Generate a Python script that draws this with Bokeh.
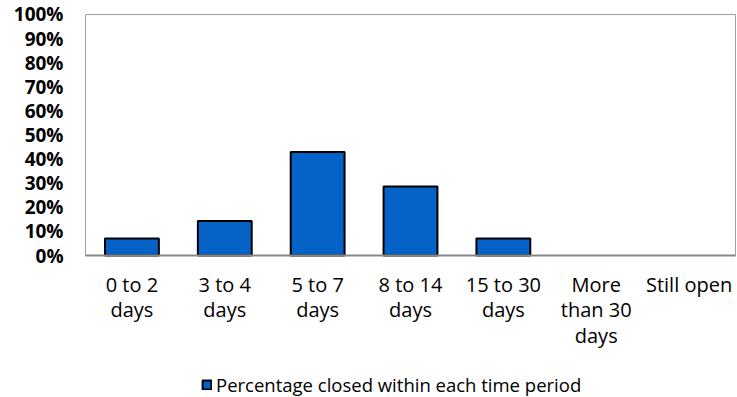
from bokeh.plotting import figure
from bokeh.models import (ColumnDataSource, Range1d, FixedTicker, PrintfTickFormatter,
                          Legend, LegendItem)
from bokeh.core.properties import value
from bokeh.embed import file_html
from bokeh.resources import INLINE

# Share of cases closed in each time band (percent)
periods = ["0-2", "3-4", "5-7", "8-14", "15-30", "30+", "open"]
period_labels = ["0 to 2\ndays", "3 to 4\ndays", "5 to 7\ndays", "8 to 14\ndays",
                 "15 to 30\ndays", "More\nthan 30\ndays", "Still open"]
pct_closed = [7.1, 14.3, 42.9, 28.6, 7.1, 0.0, 0.0]
y_ticks = [0, 10, 20, 30, 40, 50, 60, 70, 80, 90, 100]
series_name = "Percentage closed within each time period"

FONT = "Open Sans"
W, H = 737, 397
LEFT, RIGHT, TOP = 84, 1, 13          # canvas margins around the frame
PLOT_BOTTOM_PX = 255                 # screen row of the 0% baseline
n = len(periods)

# The frame spans the whole lower area too, so the category names and the
# legend can be placed in data space below the 0 line.
frame_w = W - LEFT - RIGHT
px_x = (frame_w - 2) / n                     # px per category
pad_x = 1 / px_x
px_y = (PLOT_BOTTOM_PX - TOP) / 100.4        # px per percentage point
y_end = 100 + 1 / px_y
y_start = -(H - PLOT_BOTTOM_PX) / px_y

xs = [i + 0.5 for i in range(n)]
outline = ["black" if v > 0 else None for v in pct_closed]
source = ColumnDataSource(dict(x=xs, period=periods, pct=pct_closed, outline=outline))

p = figure(width=W, height=H, x_range=Range1d(-pad_x, n + pad_x),
           y_range=Range1d(y_start, y_end),
           output_backend="svg", toolbar_location=None,
           min_border_left=LEFT, min_border_right=RIGHT, min_border_top=TOP,
           min_border_bottom=0)

p.xgrid.grid_line_color = None
p.ygrid.grid_line_color = None
p.outline_line_color = None
p.background_fill_color = "white"
p.border_fill_color = "white"
p.xaxis.visible = False

# Plot-area border and the grey category baseline
p.quad(left=0, right=n, bottom=0, top=100, fill_color=None,
       line_color="#a0a0a0", line_width=1)

bars = p.vbar(x="x", top="pct", width=0.58, source=source,
              fill_color="#0563C8", line_color="outline", line_width=2)

p.segment(x0=0, y0=0, x1=n, y1=0, line_color="#868686", line_width=2)

# Y axis: percentages, no ticks or line
p.yaxis.ticker = FixedTicker(ticks=y_ticks)
p.yaxis.formatter = PrintfTickFormatter(format="%d%%")
p.yaxis.axis_line_color = None
p.yaxis.major_tick_line_color = None
p.yaxis.minor_tick_line_color = None
p.yaxis.major_tick_out = 0
p.yaxis.major_label_standoff = 21
p.yaxis.major_label_text_font = FONT
p.yaxis.major_label_text_font_style = "bold"
p.yaxis.major_label_text_font_size = "19px"
p.yaxis.major_label_text_color = "black"

# Category names under the baseline
label_gap_px = 15
p.text(x=xs, y=[-label_gap_px / px_y] * n, text=period_labels,
       text_align="center", text_baseline="top",
       text_font=value(FONT), text_font_size="20px", text_color="black",
       text_line_height=0.96)

legend = Legend(items=[LegendItem(label=series_name, renderers=[bars])],
                location=(117, 0), orientation="horizontal",
                glyph_width=11, glyph_height=11, label_standoff=4, label_height=20,
                label_text_font=FONT, label_text_font_size="18.5px",
                label_text_color="black", padding=0, margin=0, spacing=0,
                border_line_color=None, background_fill_alpha=0)
p.add_layout(legend, "center")

open("out.html", "w").write(file_html(p, INLINE))
